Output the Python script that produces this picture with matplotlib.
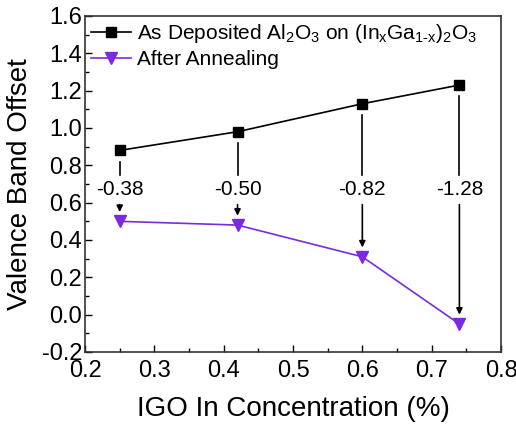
import matplotlib
matplotlib.use("Agg")
import matplotlib.pyplot as plt

plt.rcParams['font.family'] = ['Liberation Sans', 'DejaVu Sans']
plt.rcParams['mathtext.fontset'] = 'custom'
plt.rcParams['mathtext.rm'] = 'Liberation Sans'
plt.rcParams['mathtext.it'] = 'Liberation Sans'
plt.rcParams['axes.unicode_minus'] = False

# data
conc = [0.25, 0.42, 0.60, 0.74]
as_dep = [0.88, 0.98, 1.13, 1.23]
annealed = [0.50, 0.48, 0.31, -0.05]
shift_labels = ['-0.38', '-0.50', '-0.82', '-1.28']
label_y = 0.67

purple = '#7b2ae0'

fig = plt.figure(figsize=(5.16, 4.24), dpi=100)
ax = fig.add_axes([85 / 516, 1 - 352 / 424, 416 / 516, 336 / 424])

ax.plot(conc, as_dep, color='black', lw=1.2, marker='s', ms=6.5,
        label=r'As Deposited Al$_2$O$_3$ on (In$_x$Ga$_{1\text{-}x}$)$_2$O$_3$')
ax.plot(conc, annealed, color=purple, lw=1.2, marker='v', ms=8.5,
        label='After Annealing')

# arrows from as-deposited down to annealed, label in the gap
for x, y0, y1, txt in zip(conc, as_dep, annealed, shift_labels):
    ax.plot([x, x], [y0 - 0.06, label_y + 0.08], color='black', lw=1.2)
    ax.annotate('', xy=(x, y1 + 0.05), xytext=(x, label_y - 0.08),
                arrowprops=dict(arrowstyle='-|>', color='black', lw=1.2,
                                mutation_scale=9, shrinkA=0, shrinkB=0))
    ax.text(x, label_y, txt, ha='center', va='center', fontsize=15)

ax.set_xlim(0.2, 0.8)
ax.set_ylim(-0.2, 1.6)
ax.set_xticks([0.2, 0.3, 0.4, 0.5, 0.6, 0.7, 0.8])
ax.set_yticks([-0.2, 0.0, 0.2, 0.4, 0.6, 0.8, 1.0, 1.2, 1.4, 1.6])
ax.set_xticks([0.25, 0.35, 0.45, 0.55, 0.65, 0.75], minor=True)
ax.set_yticks([-0.1, 0.1, 0.3, 0.5, 0.7, 0.9, 1.1, 1.3, 1.5], minor=True)
ax.tick_params(which='both', direction='in', labelsize=17)
ax.tick_params(which='major', length=5, width=1)
ax.tick_params(axis='y', which='major', pad=2)
ax.tick_params(axis='x', which='major', pad=6)
ax.tick_params(which='minor', length=3, width=1)
for s in ax.spines.values():
    s.set_linewidth(1.2)
    s.set_color('#333333')

ax.set_xlabel('IGO In Concentration (%)', fontsize=20, labelpad=10)
ax.set_ylabel('Valence Band Offset', fontsize=20, labelpad=6)

ax.legend(loc='upper left', frameon=False, fontsize=15, handlelength=1.9,
          borderaxespad=0.1, handletextpad=0.3, labelspacing=0.25,
          borderpad=0.2)

fig.savefig('out.png', dpi=100)
